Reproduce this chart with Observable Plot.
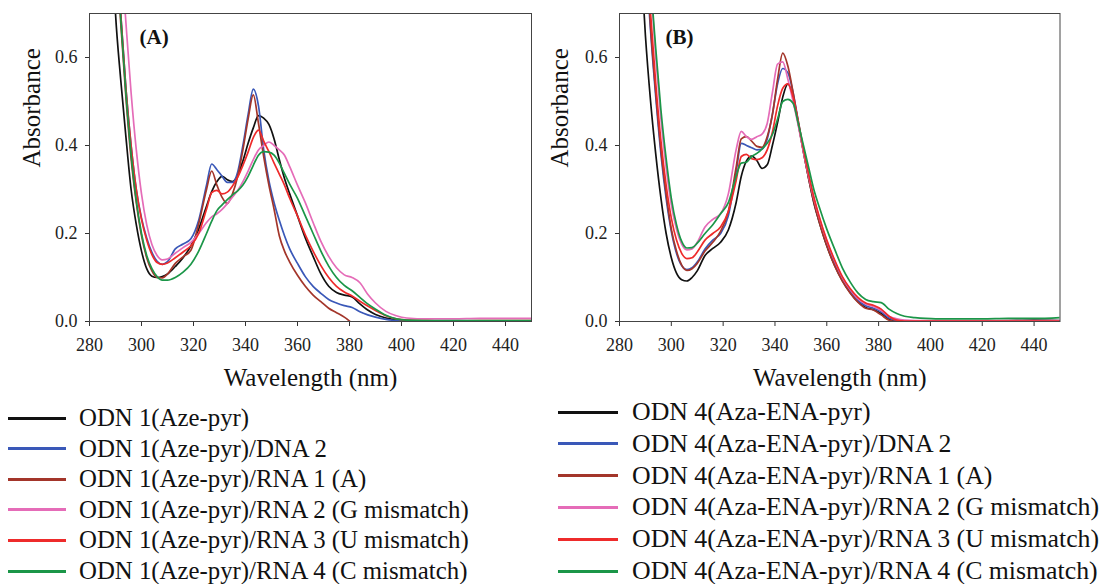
<!DOCTYPE html>
<html><head><meta charset="utf-8">
<script src="https://cdn.jsdelivr.net/npm/d3@7"></script>
<script src="https://cdn.jsdelivr.net/npm/@observablehq/plot@0.6"></script>
<style>
body{margin:0;background:#fff;width:1099px;height:584px;overflow:hidden;position:relative;font-family:'Liberation Serif','Times New Roman',serif;}
.panel{position:absolute;top:0;}
.row{position:absolute;height:30px;line-height:30px;display:flex;align-items:center;white-space:nowrap;color:#111;font-family:'Liberation Serif','Times New Roman',serif;}
.sw{display:inline-block;height:3px;flex:none;}
</style></head><body>
<div id="pa" class="panel" style="left:0px"></div>
<div id="pb" class="panel" style="left:530px"></div>
<div id="legends"></div>
<script>
// ---- data ----
const wavelengths = [288,290,292,294,296,298,300,302,304,306,308,310,313,316,319,322,325,327,329,331,333,335,337,339,341,343,345,347,349,351,353,355,357,360,363,366,369,372,375,378,381,384,387,390,394,398,402,410,420,430,440,450];
const xTicks = [280,300,320,340,360,380,400,420,440];
const yTicks = [0,0.2,0.4,0.6];
const xLabel = ["Wavelength (nm)"];
const yLabel = ["Absorbance"];
const panelLabels = ["(A)", "(B)"];
const colors = ["#111111", "#3a58b8", "#a3352a", "#e56cb8", "#ee2b2b", "#1b9648"];

const labelsA = ["ODN 1(Aze-pyr)", "ODN 1(Aze-pyr)/DNA 2", "ODN 1(Aze-pyr)/RNA 1 (A)", "ODN 1(Aze-pyr)/RNA 2 (G mismatch)", "ODN 1(Aze-pyr)/RNA 3 (U mismatch)", "ODN 1(Aze-pyr)/RNA 4 (C mismatch)"];
const labelsB = ["ODN 4(Aza-ENA-pyr)", "ODN 4(Aza-ENA-pyr)/DNA 2", "ODN 4(Aza-ENA-pyr)/RNA 1 (A)", "ODN 4(Aza-ENA-pyr)/RNA 2 (G mismatch)", "ODN 4(Aza-ENA-pyr)/RNA 3 (U mismatch)", "ODN 4(Aza-ENA-pyr)/RNA 4 (C mismatch)"];

// Panel A
const a_odn1 = [0.95,0.70,0.55,0.42,0.30,0.22,0.16,0.12,0.103,0.1,0.102,0.108, 0.125,0.145,0.172,0.21,0.262, 0.295,0.318,0.33,0.322,0.318,0.332,0.365,0.405,0.44,0.468,0.462,0.448,0.415,0.368,0.325,0.29, 0.24,0.19,0.148,0.108,0.08,0.066,0.06,0.056,0.04,0.026,0.016, 0.008,0.004,0.002, 0.001,0.001,0.001,0.001,0.001];
const a_dna2 = [1.15,0.9,0.7,0.53,0.4,0.3,0.235,0.19,0.157,0.137,0.13,0.136, 0.165,0.176,0.188,0.23,0.31, 0.358,0.345,0.33,0.316,0.316,0.34,0.4,0.47,0.528,0.49,0.39,0.32,0.27,0.23,0.195,0.165, 0.132,0.102,0.08,0.064,0.05,0.042,0.036,0.032,0.022,0.015,0.01, 0.005,0.002,0.001, 0.001,0.001,0.001,0.001,0.001];
const a_rna1 = [1.1,0.88,0.68,0.51,0.37,0.27,0.195,0.145,0.115,0.1,0.099,0.108, 0.132,0.147,0.162,0.222,0.3, 0.342,0.31,0.282,0.268,0.29,0.33,0.39,0.46,0.515,0.45,0.375,0.31,0.255,0.195,0.16,0.135, 0.105,0.08,0.06,0.045,0.03,0.02,0.01,-0.004,null,null,null, null,null,null, null,null,null,null,null];
const a_rna2 = [1.3,1.05,0.85,0.68,0.52,0.39,0.29,0.22,0.175,0.15,0.14,0.142, 0.155,0.168,0.18,0.2,0.225, 0.238,0.245,0.255,0.268,0.283,0.298,0.318,0.342,0.368,0.39,0.4,0.408,0.4,0.39,0.378,0.352, 0.31,0.27,0.225,0.182,0.148,0.122,0.106,0.1,0.088,0.062,0.042, 0.023,0.013,0.008, 0.006,0.006,0.007,0.007,0.007];
const a_rna3 = [1.15,0.9,0.7,0.53,0.4,0.3,0.232,0.185,0.152,0.134,0.13,0.133, 0.145,0.158,0.172,0.2,0.255, 0.293,0.298,0.29,0.294,0.308,0.328,0.355,0.385,0.418,0.435,0.41,0.386,0.36,0.335,0.31,0.28, 0.24,0.197,0.16,0.127,0.1,0.08,0.067,0.058,0.046,0.035,0.025, 0.013,0.006,0.003, 0.002,0.001,0.002,0.002,0.002];
const a_rna4 = [1.1,0.88,0.69,0.52,0.38,0.275,0.2,0.15,0.12,0.102,0.094,0.094, 0.1,0.112,0.13,0.16,0.2, 0.228,0.252,0.265,0.277,0.288,0.297,0.31,0.33,0.355,0.378,0.386,0.385,0.378,0.36,0.336,0.312, 0.28,0.24,0.2,0.16,0.126,0.1,0.082,0.07,0.055,0.04,0.028, 0.014,0.006,0.003, 0.002,0.002,0.002,0.002,0.002];

// Panel B
const b_odn4 = [0.85,0.65,0.5,0.38,0.28,0.2,0.145,0.11,0.095,0.092,0.1,0.115, 0.15,0.166,0.18,0.208,0.27, 0.33,0.365,0.376,0.366,0.348,0.356,0.4,0.452,0.51,0.54,0.51,0.45,0.385,0.325,0.27,0.228, 0.172,0.128,0.093,0.066,0.045,0.032,0.027,0.018,0.006,0.001,0, 0,0,0, 0,0.001,0.002,0.003,0.002];
const b_dna2 = [1.1,0.85,0.66,0.51,0.38,0.28,0.205,0.155,0.127,0.118,0.122,0.135, 0.165,0.185,0.2,0.24,0.34, 0.405,0.4,0.395,0.39,0.392,0.415,0.47,0.54,0.575,0.565,0.52,0.455,0.39,0.33,0.278,0.234, 0.178,0.132,0.097,0.07,0.048,0.036,0.03,0.022,0.008,0.002,0.001, 0.001,0.001,0.001, 0.001,0.001,0.001,0.001,0.001];
const b_rna1 = [1.1,0.86,0.67,0.52,0.39,0.29,0.21,0.16,0.128,0.116,0.12,0.132, 0.16,0.18,0.205,0.25,0.35, 0.415,0.42,0.41,0.398,0.396,0.42,0.47,0.55,0.61,0.58,0.52,0.45,0.385,0.325,0.272,0.228, 0.172,0.127,0.092,0.065,0.044,0.03,0.026,0.015,0.003,0,0, 0,0,0, 0,0,0,0,0];
const b_rna2 = [1.25,0.98,0.77,0.6,0.46,0.35,0.265,0.21,0.176,0.163,0.165,0.18, 0.215,0.232,0.245,0.29,0.39, 0.432,0.42,0.414,0.42,0.426,0.45,0.52,0.585,0.59,0.55,0.5,0.445,0.385,0.33,0.28,0.238, 0.183,0.138,0.1,0.073,0.052,0.04,0.034,0.025,0.012,0.006,0.003, 0.002,0.002,0.002, 0.002,0.002,0.002,0.002,0.002];
const b_rna3 = [1.15,0.9,0.7,0.54,0.41,0.31,0.235,0.185,0.155,0.143,0.145,0.158, 0.185,0.2,0.215,0.25,0.32, 0.375,0.38,0.37,0.368,0.372,0.39,0.43,0.49,0.53,0.54,0.51,0.455,0.392,0.335,0.283,0.24, 0.185,0.14,0.102,0.075,0.055,0.042,0.037,0.028,0.012,0.003,0.001, 0.001,0.001,0.001, 0.001,0.001,0.001,0.001,0.001];
const b_rna4 = [1.3,1.0,0.78,0.62,0.48,0.37,0.28,0.22,0.182,0.167,0.168,0.178, 0.2,0.22,0.245,0.27,0.33, 0.36,0.362,0.375,0.382,0.392,0.405,0.425,0.46,0.5,0.505,0.496,0.45,0.4,0.35,0.3,0.262, 0.21,0.165,0.122,0.09,0.065,0.05,0.045,0.043,0.028,0.018,0.012, 0.009,0.007,0.006, 0.006,0.006,0.007,0.007,0.009];

const seriesA = [a_odn1, a_dna2, a_rna1, a_rna2, a_rna3, a_rna4];
const seriesB = [b_odn4, b_dna2, b_rna1, b_rna2, b_rna3, b_rna4];

function rowsOf(values) {
  const out = [];
  values.forEach((v, j) => { if (v != null) out.push({nm: wavelengths[j], abs: v}); });
  return out;
}

function panel(series, label, o) {
  return Plot.plot({
    width: o.width, height: 400,
    marginLeft: o.ml, marginRight: o.mr, marginTop: 13, marginBottom: 79,
    style: {fontFamily: "'Liberation Serif', serif", fontSize: "18px", color: "#222", background: "transparent", overflow: "visible"},
    x: {domain: [280, 450]},
    y: {domain: [0, 0.7]},
    marks: [
      Plot.axisX({ticks: xTicks, tickSize: 5, tickPadding: 12, label: null, tickFormat: d => String(d), stroke: "#333"}),
      Plot.axisY({ticks: yTicks, tickSize: 4, tickPadding: 8, label: null, tickFormat: d3.format(".1f"), stroke: "#333"}),
      ...series.map((s, i) => Plot.line(rowsOf(s), {x: "nm", y: "abs", stroke: colors[i], strokeWidth: 1.7, curve: "monotone-x", clip: true})),
      Plot.frame({stroke: "#444", strokeWidth: 1}),
      Plot.text(xLabel, {text: d => d, frameAnchor: "bottom", dy: 64, fontSize: 25, fill: "#111"}),
      Plot.text(yLabel, {text: d => d, frameAnchor: "left", rotate: -90, dx: o.ydx, fontSize: 25, fill: "#111"}),
      Plot.text([label], {text: d => d, frameAnchor: "top-left", dx: o.pdx, dy: 24, fontSize: 21, fontWeight: "bold", textAnchor: "start", lineAnchor: "middle", fill: "#111"})
    ]
  });
}

document.getElementById("pa").appendChild(panel(seriesA, panelLabels[0], {width: 550, ml: 89, mr: 19, ydx: -58, pdx: 50}));
document.getElementById("pb").appendChild(panel(seriesB, panelLabels[1], {width: 569, ml: 89, mr: 39.5, ydx: -60, pdx: 46}));

function legend(labels, o) {
  const host = document.getElementById("legends");
  labels.forEach((t, i) => {
    const row = document.createElement("div");
    row.className = "row";
    row.style.left = o.left + "px";
    row.style.top = (o.y0 + i * o.step - 15) + "px";
    row.style.fontSize = o.fs + "px";
    const sw = document.createElement("span");
    sw.className = "sw";
    sw.style.width = o.sw + "px";
    sw.style.background = colors[i];
    sw.style.marginRight = o.gap + "px";
    const tx = document.createElement("span");
    tx.textContent = t;
    row.appendChild(sw); row.appendChild(tx);
    host.appendChild(row);
  });
}
legend(labelsA, {left: 8, sw: 58, gap: 13, y0: 418, step: 30.6, fs: 24.8});
legend(labelsB, {left: 558, sw: 60, gap: 14, y0: 412, step: 31.8, fs: 25.8});
</script>
</body></html>
